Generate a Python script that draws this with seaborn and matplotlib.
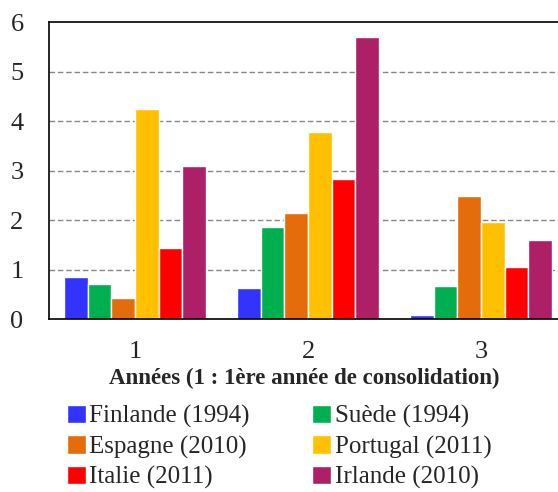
import pandas as pd
import seaborn as sns
import matplotlib.pyplot as plt
from matplotlib.ticker import FixedLocator

years = ["1", "2", "3"]
countries = ["Finlande (1994)", "Suède (1994)", "Espagne (2010)",
             "Portugal (2011)", "Italie (2011)", "Irlande (2010)"]
finlande = [0.85, 0.63, 0.09]
suede = [0.71, 1.85, 0.66]
espagne = [0.42, 2.14, 2.49]
portugal = [4.25, 3.78, 1.97]
italie = [1.44, 2.82, 1.06]
irlande = [3.09, 5.69, 1.60]
colors = ["#3333FF", "#00B050", "#E46C0A", "#FFC000", "#FF0000", "#AD1F66"]

series = [finlande, suede, espagne, portugal, italie, irlande]
rows = []
for name, vals in zip(countries, series):
    for yr, v in zip(years, vals):
        rows.append({"annee": yr, "pays": name, "valeur": v})
df = pd.DataFrame(rows)

sns.set_style("white")
plt.rcParams["font.family"] = ["Liberation Serif", "DejaVu Serif"]

fig = plt.figure(figsize=(5.58, 4.92), dpi=100)
ax = fig.add_axes([0.087, 0.3516, 0.93, 0.6034])
sns.barplot(data=df, x="annee", y="valeur", hue="pays", hue_order=countries,
            palette=colors, width=0.82, ax=ax, saturation=1, legend=True)

ax.set_ylim(0, 6)
ax.set_xlim(-0.5, 2.5)
ax.set_yticks(range(7))
ax.tick_params(axis="y", labelsize=19, length=0, pad=18)
ax.tick_params(axis="x", labelsize=19, length=0, pad=16)
ax.xaxis.set_minor_locator(FixedLocator([0.5, 1.5]))
ax.tick_params(axis="x", which="minor", direction="in", length=6, width=1, color="#444444")
for y in range(1, 6):
    ax.axhline(y, color="#888888", linestyle=(0, (4, 2)), linewidth=1, zorder=0)
for s in ["left", "bottom", "top"]:
    ax.spines[s].set_color("black")
    ax.spines[s].set_linewidth(1.2)
ax.set_ylabel("")
ax.set_xlabel("Années (1 : 1ère année de consolidation)", fontsize=16.5,
              fontweight="bold", labelpad=2)
ax.xaxis.set_label_coords(0.493, -0.163)

handles, labels = ax.get_legend_handles_labels()
ax.get_legend().remove()
order = [0, 2, 4, 1, 3, 5]
fig.legend([handles[i] for i in order], [labels[i] for i in order],
           loc="upper left", bbox_to_anchor=(0.102, 0.198), ncol=2, frameon=False,
           fontsize=18, handlelength=0.75, handleheight=0.75, handletextpad=0.15,
           columnspacing=2.5, labelspacing=0.3, borderaxespad=0)

fig.savefig("out.png", dpi=100)
